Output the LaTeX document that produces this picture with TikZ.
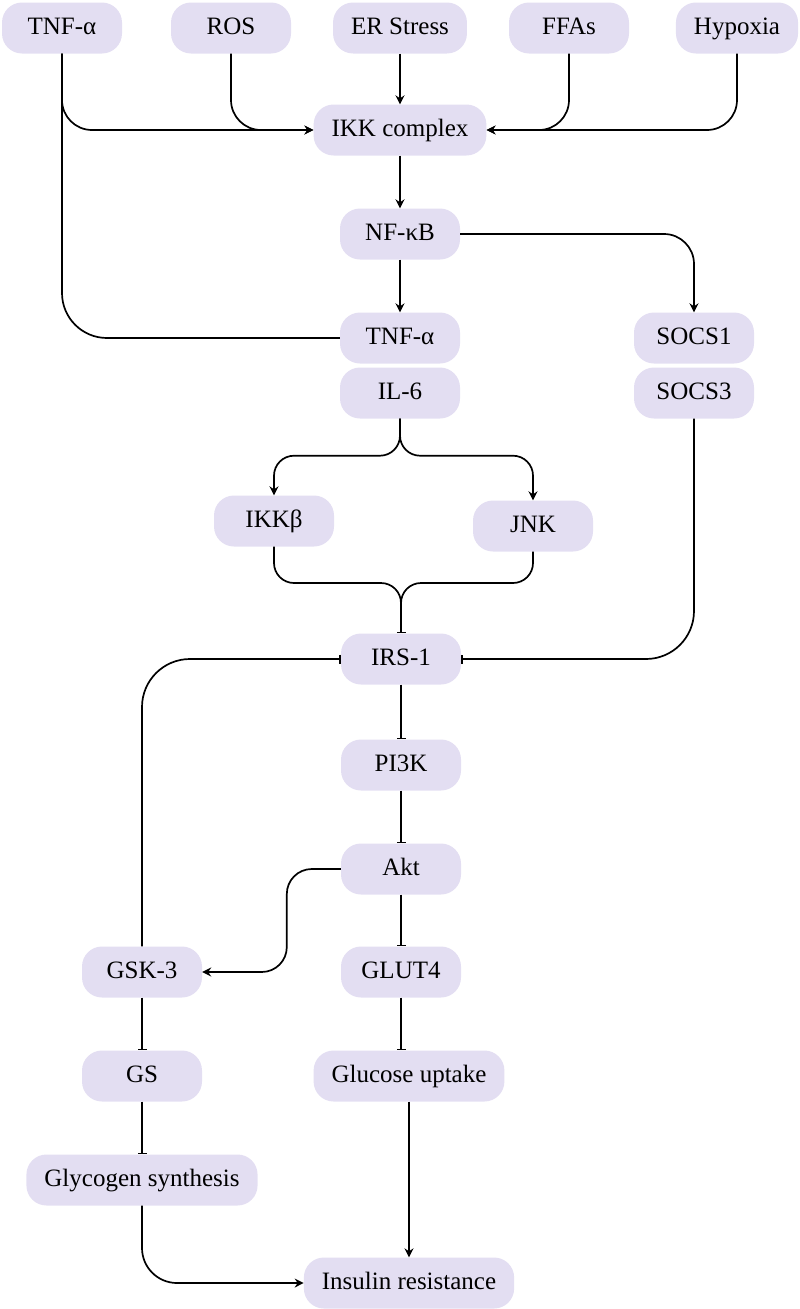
\documentclass[tikz,border=0pt]{standalone}
\usepackage{fontspec}
\setmainfont{Liberation Serif}
\usetikzlibrary{arrows.meta}

\definecolor{boxfill}{RGB}{227,222,242}

\tikzset{
  box/.style={fill=boxfill, rounded corners=20pt, minimum width=120pt,
    minimum height=51pt, inner xsep=18pt, text height=17pt, text depth=5pt},
  act/.style={-{Stealth[length=9pt,width=9pt,inset=3pt]}, line width=1.7pt,
    rounded corners=30pt},
  inh/.style={-{Bar[width=9pt]}, line width=1.7pt, rounded corners=30pt},
  link/.style={line width=1.7pt, rounded corners=45pt}
}

\begin{document}
\begin{tikzpicture}[x=1pt,y=1pt,font=\fontsize{25}{30}\selectfont]

  \useasboundingbox (0,0) rectangle (800,-1309);

  % stimuli
  \foreach \n/\x/\t in {tnfA/62/TNF-α, ros/231/ROS, er/400/ER Stress,
                        ffa/569/FFAs, hyp/737/Hypoxia}
    \node[box] (\n) at (\x,-28) {\t};

  % main column
  \node[box] (ikk)   at (400,-130) {IKK complex};
  \node[box] (nfkb)  at (400,-234) {NF-κB};
  \node[box] (tnfB)  at (400,-338) {TNF-α};
  \node[box] (il6)   at (400,-393) {IL-6};
  \node[box] (socs1) at (694,-338) {SOCS1};
  \node[box] (socs3) at (694,-393) {SOCS3};
  \node[box] (ikkb)  at (274,-521) {IKKβ};
  \node[box] (jnk)   at (533,-526) {JNK};
  \node[box] (irs)   at (401,-659) {IRS-1};
  \node[box] (pi3k)  at (401,-765) {PI3K};
  \node[box] (akt)   at (401,-869) {Akt};
  \node[box] (glut)  at (401,-972) {GLUT4};
  \node[box] (gu)    at (409,-1076) {Glucose uptake};
  \node[box] (ir)    at (409,-1283) {Insulin resistance};

  % glycogen branch
  \node[box] (gsk)  at (142,-972) {GSK-3};
  \node[box] (gs)   at (142,-1076) {GS};
  \node[box] (glyc) at (142,-1180) {Glycogen synthesis};

  % inputs of IKK
  \draw[act] (tnfA.south) |- (ikk.west);
  \draw[act] (ros.south) |- (ikk.west);
  \draw[act] (er) -- (ikk);
  \draw[act] (ffa.south) |- (ikk.east);
  \draw[act] (hyp.south) |- (ikk.east);
  \draw[link] (tnfA.south) |- (tnfB.west);

  % NF-kB targets
  \draw[act] (ikk) -- (nfkb);
  \draw[act] (nfkb) -- (tnfB);
  \draw[act] (nfkb.east) -| (socs1.north);

  % cytokines to kinases
  \draw[act, rounded corners=20pt] (il6.south) -- ++(0,-37) -| (ikkb.north);
  \draw[act, rounded corners=20pt] (il6.south) -- ++(0,-37) -| (jnk.north);

  % inhibition of IRS-1
  \coordinate (mrg) at (401,-583);
  \draw[inh, rounded corners=20pt] (ikkb.south) |- (mrg) -- (irs.north);
  \draw[inh, rounded corners=20pt] (jnk.south) |- (mrg) -- (irs.north);
  \draw[inh, rounded corners=48pt] (socs3.south) |- (irs.east);
  \draw[inh, rounded corners=48pt] (gsk.north) |- (irs.west);

  % insulin signalling
  \draw[inh] (irs) -- (pi3k);
  \draw[inh] (pi3k) -- (akt);
  \draw[inh] (akt) -- (glut);
  \draw[inh] (glut.south) -- (glut.south |- gu.north);
  \draw[act, rounded corners=25pt] (akt.west) -- ++(-54,0) |- (gsk.east);
  \draw[inh] (gsk) -- (gs);
  \draw[inh] (gs) -- (glyc);

  % outcome
  \draw[act] (gu) -- (ir);
  \draw[act, rounded corners=35pt] (glyc.south) |- (ir.west);
\end{tikzpicture}
\end{document}
